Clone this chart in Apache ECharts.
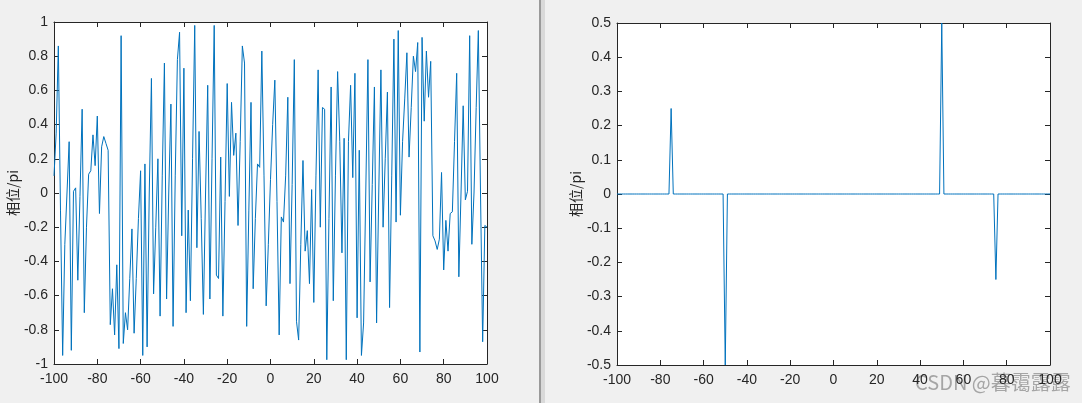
<!DOCTYPE html>
<html>
<head>
<meta charset="utf-8">
<script src="https://cdn.jsdelivr.net/npm/echarts@6/dist/echarts.min.js"></script>
<style>
html,body{margin:0;padding:0;background:#f0f0f0;}
#c{width:1082px;height:403px;}
</style>
</head>
<body>
<div id="c"></div>
<script>
// x samples -100..100 step 1
var xStart = -100, xEnd = 100;
// left subplot: noisy phase (相位/pi)
var phaseNoisy = [
 0.10, 0.35, 0.86,-0.10,-0.95,-0.30, 0.00, 0.30,-0.92, 0.01,
 0.03,-0.51,-0.02, 0.49,-0.70,-0.20, 0.11, 0.13, 0.34, 0.16,
 0.45,-0.12, 0.27, 0.33, 0.29, 0.25,-0.77,-0.56,-0.83,-0.42,
-0.91, 0.92,-0.88,-0.70,-0.80,-0.50,-0.21,-0.82,-0.50,-0.15,
 0.13,-0.95, 0.17,-0.90, 0.00, 0.67,-0.59,-0.20, 0.20,-0.72,
 0.10, 0.76,-0.62, 0.00, 0.52,-0.78, 0.10, 0.78, 0.94,-0.25,
 0.73,-0.70,-0.10,-0.63, 0.20, 0.98,-0.32, 0.36,-0.15,-0.71,
 0.00, 0.63,-0.62, 0.20, 0.98,-0.48,-0.50, 0.21,-0.72,-0.05,
 0.64,-0.02, 0.53, 0.22, 0.35,-0.19, 0.30, 0.86, 0.76,-0.78,
-0.10, 0.53,-0.56,-0.15, 0.17, 0.15, 0.83, 0.10,-0.66,-0.30,
 0.08, 0.40, 0.66,-0.05,-0.83,-0.14,-0.17, 0.10, 0.56,-0.53,
 0.05, 0.78,-0.75,-0.86,-0.30, 0.19,-0.34,-0.22,-0.53, 0.02,
-0.64, 0.10, 0.72,-0.20, 0.50, 0.49,-0.975,-0.15, 0.62,-0.63,
 0.10, 0.71, 0.30,-0.35, 0.32,-0.975, 0.30, 0.63, 0.09, 0.70,
-0.73, 0.25,-0.95,-0.76, 0.00, 0.78,-0.52, 0.05, 0.62,-0.76,
 0.00, 0.72,-0.20, 0.20, 0.59,-0.67, 0.10, 0.90,-0.17, 0.95,
-0.13, 0.30, 0.55, 0.82, 0.21, 0.50, 0.80, 0.71, 0.88,-0.93,
 0.91, 0.42, 0.83, 0.56, 0.77,-0.25,-0.28,-0.33,-0.27, 0.12,
-0.45,-0.16,-0.34,-0.12,-0.11, 0.30, 0.70,-0.49, 0.00, 0.51,
-0.04, 0.01, 0.92,-0.30, 0.00, 0.50, 0.95, 0.00,-0.87,-0.19,
-0.20
];
// right subplot: sparse phase, zero except a few spikes
var spikeX = [-75, -50, 50, 75];
var spikeY = [0.25, -0.5, 0.5, -0.25];
var yName = '相位/pi';
var xTicks = {min: -100, max: 100, interval: 20};
var yLeft = {min: -1, max: 1, interval: 0.2};
var yRight = {min: -0.5, max: 0.5, interval: 0.1};

var leftData = [];
for (var i = 0; i < phaseNoisy.length; i++) leftData.push([xStart + i, phaseNoisy[i]]);
var rightData = [];
for (var x = xStart; x <= xEnd; x++) {
  var k = spikeX.indexOf(x);
  rightData.push([x, k >= 0 ? spikeY[k] : 0]);
}

var AX = '#262626';
var FONT = '"Liberation Sans", Arial, sans-serif';
function xAx(g, top) {
  return {
    type: 'value', gridIndex: g, position: top ? 'top' : 'bottom',
    min: xTicks.min, max: xTicks.max, interval: xTicks.interval,
    axisLine: {show: true, onZero: false, lineStyle: {color: AX, width: 1}},
    axisTick: {show: true, inside: true, length: 5, lineStyle: {color: AX}},
    axisLabel: {show: !top, color: AX, fontSize: 14, fontFamily: FONT, margin: 8},
    splitLine: {show: false}
  };
}
function yAx(g, r, right) {
  var o = {
    type: 'value', gridIndex: g, position: right ? 'right' : 'left',
    min: r.min, max: r.max, interval: r.interval,
    axisLine: {show: true, onZero: false, lineStyle: {color: AX, width: 1}},
    axisTick: {show: true, inside: true, length: 5, lineStyle: {color: AX}},
    axisLabel: {show: !right, color: AX, fontSize: 14, fontFamily: FONT, margin: 6},
    splitLine: {show: false}
  };
  if (!right) {
    o.name = yName; o.nameLocation = 'middle'; o.nameGap = 34; o.nameRotate = 90;
    o.nameTextStyle = {color: AX, fontSize: 14, fontFamily: '"Noto Sans CJK SC", sans-serif'};
  }
  return o;
}

var chart = echarts.init(document.getElementById('c'), null, {renderer: 'canvas'});
chart.setOption({
  animation: false,
  backgroundColor: '#f0f0f0',
  grid: [
    {left: 54, top: 22, width: 433, height: 342, show: true, backgroundColor: '#ffffff', borderWidth: 0},
    {left: 617, top: 23, width: 433, height: 342, show: true, backgroundColor: '#ffffff', borderWidth: 0}
  ],
  xAxis: [xAx(0, false), xAx(0, true), xAx(1, false), xAx(1, true)],
  yAxis: [yAx(0, yLeft, false), yAx(0, yLeft, true), yAx(1, yRight, false), yAx(1, yRight, true)],
  series: [
    {type: 'line', xAxisIndex: 0, yAxisIndex: 0, data: leftData, showSymbol: false,
     lineStyle: {color: '#0072BD', width: 1}, itemStyle: {color: '#0072BD'}},
    {type: 'line', xAxisIndex: 2, yAxisIndex: 2, data: rightData, showSymbol: false,
     lineStyle: {color: '#0072BD', width: 1}, itemStyle: {color: '#0072BD'}}
  ],
  graphic: [
    {type: 'rect', left: 539, top: 0, shape: {width: 2, height: 403}, style: {fill: '#9a9a9a'}},
    {type: 'rect', left: 541, top: 0, shape: {width: 4, height: 403}, style: {fill: '#d9d9d9'}},
    {type: 'text', left: 915, top: 372, style: {text: 'CSDN @暮霭露露', fill: 'rgba(140,140,140,0.75)',
      font: '20px "Noto Sans CJK SC", sans-serif'}}
  ]
});
</script>
</body>
</html>
